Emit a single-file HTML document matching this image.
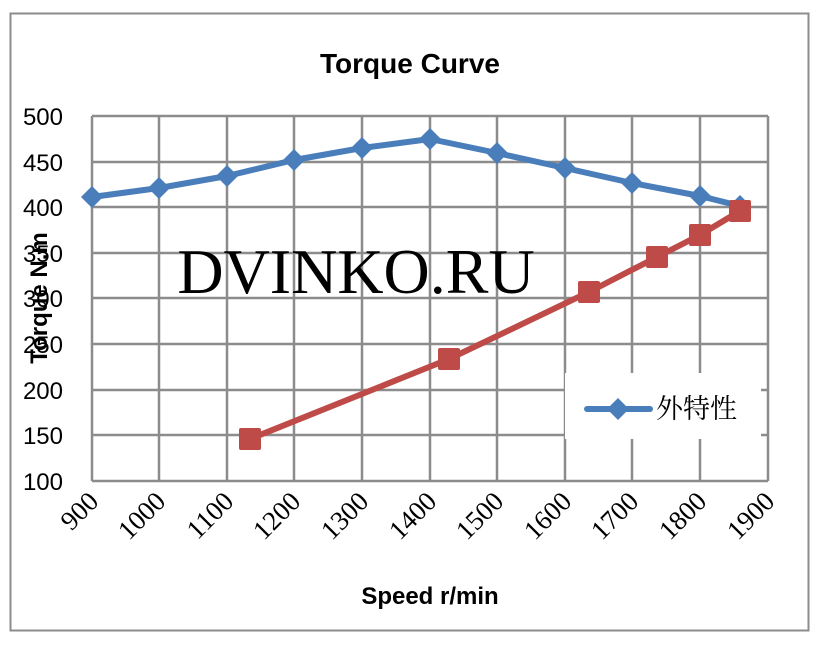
<!DOCTYPE html>
<html><head><meta charset="utf-8"><style>
html,body{margin:0;padding:0;background:#fff;}
</style></head><body>
<svg width="823" height="650" xmlns="http://www.w3.org/2000/svg" style="font-family:'Liberation Sans','DejaVu Sans',sans-serif">
<rect x="0" y="0" width="823" height="650" fill="#fff"/>
<rect x="10.5" y="13.5" width="798" height="617" fill="#fff" stroke="#8c8c8c" stroke-width="2"/>
<text x="410" y="73" text-anchor="middle" font-size="28" font-weight="bold" fill="#000">Torque Curve</text>
<g stroke="#8c8c8c" stroke-width="2.5" fill="none">
<line x1="92" y1="116" x2="768" y2="116"/><line x1="92" y1="162" x2="768" y2="162"/>
<line x1="92" y1="207" x2="768" y2="207"/><line x1="92" y1="253" x2="768" y2="253"/>
<line x1="92" y1="298" x2="768" y2="298"/><line x1="92" y1="344" x2="768" y2="344"/>
<line x1="92" y1="390" x2="768" y2="390"/><line x1="92" y1="435" x2="768" y2="435"/>
<line x1="92" y1="481" x2="768" y2="481"/>
<line x1="92" y1="116" x2="92" y2="481"/><line x1="159" y1="116" x2="159" y2="481"/>
<line x1="227" y1="116" x2="227" y2="481"/><line x1="294" y1="116" x2="294" y2="481"/>
<line x1="362" y1="116" x2="362" y2="481"/><line x1="430" y1="116" x2="430" y2="481"/>
<line x1="497" y1="116" x2="497" y2="481"/><line x1="565" y1="116" x2="565" y2="481"/>
<line x1="632" y1="116" x2="632" y2="481"/><line x1="700" y1="116" x2="700" y2="481"/>
<line x1="768" y1="116" x2="768" y2="481"/>
</g>
<g font-size="24" fill="#000" text-anchor="end">
<text x="63" y="125">500</text><text x="63" y="171">450</text><text x="63" y="216">400</text>
<text x="63" y="262">350</text><text x="63" y="307">300</text><text x="63" y="353">250</text>
<text x="63" y="399">200</text><text x="63" y="444">150</text><text x="63" y="490">100</text>
</g>
<g font-size="27" fill="#000" text-anchor="end" style="font-family:'Liberation Serif',serif">
<text transform="translate(100,503) rotate(-45)">900</text>
<text transform="translate(167,503) rotate(-45)">1000</text>
<text transform="translate(235,503) rotate(-45)">1100</text>
<text transform="translate(302,503) rotate(-45)">1200</text>
<text transform="translate(370,503) rotate(-45)">1300</text>
<text transform="translate(438,503) rotate(-45)">1400</text>
<text transform="translate(505,503) rotate(-45)">1500</text>
<text transform="translate(573,503) rotate(-45)">1600</text>
<text transform="translate(640,503) rotate(-45)">1700</text>
<text transform="translate(708,503) rotate(-45)">1800</text>
<text transform="translate(776,503) rotate(-45)">1900</text>
</g>
<text x="430" y="604" text-anchor="middle" font-size="24" font-weight="bold">Speed r/min</text>
<text transform="translate(47,298) rotate(-90)" text-anchor="middle" font-size="24" font-weight="bold">Torque N.m</text>
<text x="356" y="293" text-anchor="middle" font-size="64" fill="#000" style="font-family:'Liberation Serif',serif">DVINKO.RU</text>
<rect x="565" y="373" width="196" height="66" fill="#fff"/>
<polyline points="92,197 159,188 227,176 294,160 362,148 430,139 497,153 565,168 632,183 700,196 740,206" fill="none" stroke="#4a7ebb" stroke-width="6" stroke-linejoin="round"/>
<g fill="#4a7ebb">
<path d="M92,186l11,11l-11,11l-11-11z"/><path d="M159,177l11,11l-11,11l-11-11z"/>
<path d="M227,165l11,11l-11,11l-11-11z"/><path d="M294,149l11,11l-11,11l-11-11z"/>
<path d="M362,137l11,11l-11,11l-11-11z"/><path d="M430,128l11,11l-11,11l-11-11z"/>
<path d="M497,142l11,11l-11,11l-11-11z"/><path d="M565,157l11,11l-11,11l-11-11z"/>
<path d="M632,172l11,11l-11,11l-11-11z"/><path d="M700,185l11,11l-11,11l-11-11z"/>
<path d="M740,195l11,11l-11,11l-11-11z"/>
</g>
<polyline points="250,439 449,359 589,292 657,257 700,235 740,211" fill="none" stroke="#be4b48" stroke-width="6"/>
<g fill="#be4b48">
<rect x="239" y="428" width="22" height="22" rx="2"/><rect x="438" y="348" width="22" height="22" rx="2"/>
<rect x="578" y="281" width="22" height="22" rx="2"/><rect x="646" y="246" width="22" height="22" rx="2"/>
<rect x="689" y="224" width="22" height="22" rx="2"/><rect x="729" y="200" width="22" height="22" rx="2"/>
</g>
<line x1="587" y1="409" x2="650" y2="409" stroke="#4a7ebb" stroke-width="6" stroke-linecap="round"/>
<path d="M618,398l11,11l-11,11l-11-11z" fill="#4a7ebb"/>
<text x="656" y="418" font-size="27" style="font-family:'Noto Serif CJK SC','Noto Sans CJK SC',serif">外特性</text>
</svg>
</body></html>
